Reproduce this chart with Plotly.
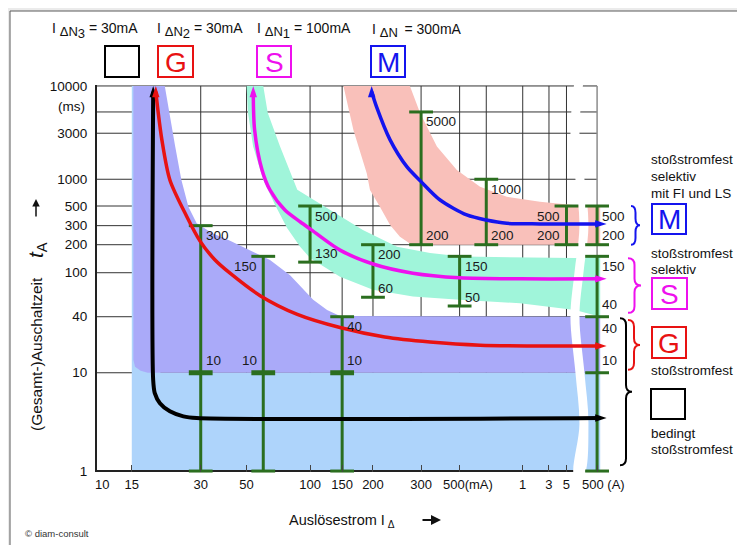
import numpy as np
import plotly.graph_objects as go

FONT = "Arial, 'Liberation Sans', sans-serif"

# ---------------- axis definitions (piecewise log scales, as drawn in the original) ----------------
X_TICK_MA = [10, 15, 30, 50, 100, 150, 200, 300, 500, 1000, 3000, 5000, 500000]
X_TICK_POS = [1.0, 1.144, 1.475, 1.695, 2.0, 2.154, 2.302, 2.533, 2.718, 3.021, 3.147, 3.231, 3.378]
X_TICK_TEXT = ["10", "15", "30", "50", "100", "150", "200", "300", "500(mA)", "1", "3", "5", "500 (A)"]
Y_TICK_MS = [1, 10, 40, 100, 200, 300, 500, 1000, 3000, 5000, 10000]
Y_TICK_POS = [0.0, 1.021, 1.603, 2.060, 2.351, 2.549, 2.753, 3.031, 3.509, 3.730, 4.0]
Y_TICK_TEXT = ["1", "10", "40", "100", "200", "300", "500", "1000", "3000", "", "10000"]
GRID_X_MA = [30, 50, 100, 150, 200, 300, 500, 670, 1000, 3000, 5000]
GRID_Y_MS = [10, 40, 100, 200, 300, 500, 1000, 3000, 5000, 10000]

X_EDGE_MA = 800000     # right end of shaded zones
X_TIP_MA = 2100000     # right arrow tips

# ---------------- shaded zones (mA, ms) ----------------
LIGHTBLUE_X = [15, 800000, 800000, 20, 20, 15]
LIGHTBLUE_Y = [1, 1, 10, 10, 10000, 10000]

PURPLE_X = [15.24, 15.24, 20.9, 21.9, 23.2, 24.7, 26.5, 28.8, 34, 41.6, 51.9, 64.6, 80.4, 92.9, 104, 124, 146,
            800000, 800000, 17.6, 16.4, 15.5]
PURPLE_Y = [13.8, 10000, 10000, 4800, 2200, 980, 490, 320, 257, 218, 175, 137, 95, 70, 57, 46, 40.5,
            40, 10, 10, 10.5, 11.6]

CYAN_X = [60, 63, 72, 87, 129, 182, 245, 338, 519, 18000, 800000,
          800000, 18000, 971, 500, 280, 200, 146, 100, 89.7, 77.8, 68.3, 60, 53.7, 50.8, 50]
CYAN_Y = [10000, 4900, 2200, 760, 450, 274, 190, 163, 149, 144, 148,
          40, 46, 53, 57, 61, 70, 92, 144, 190, 286, 513, 982, 2200, 4900, 10000]

PINK_X = [151.8, 273, 297.5, 370, 482, 626, 839, 2060, 13400, 800000,
          800000, 277, 251, 231, 212, 194.5, 188.7, 166.6]
PINK_Y = [10000, 10000, 4880, 2180, 1250, 825, 636, 560, 513, 513,
          200, 200, 237, 305, 491, 757, 1154, 3245]

# ---------------- characteristic curves (mA, ms) ----------------
BLACK_X = [18.6, 18.6, 18.9, 19.9, 22.0, 25.2, 28.8, X_TIP_MA]
BLACK_Y = [10000, 8.4, 6.2, 4.9, 4.05, 3.6, 3.46, 3.46]
RED_X = [19.1, 19.5, 20.3, 22.0, 26.0, 29.8, 35.2, 41.6, 58, 87, 146, 221, 338, 626, 4100, X_TIP_MA]
RED_Y = [10000, 5270, 2560, 982, 386, 216, 137, 99, 62, 42, 30.6, 24.2, 21.4, 19.8, 19.4, 19.4]
MAGENTA_X = [53.8, 54.6, 59.2, 64.6, 76, 90, 100, 146, 200, 280, 500, 970, X_TIP_MA]
MAGENTA_Y = [10000, 3250, 1250, 757, 450, 330, 280, 175, 124, 99, 90, 88, 88]
BLUE_X = [197.6, 206, 231, 266, 300, 386, 541, 670, 839, 2060, X_TIP_MA]
BLUE_Y = [10000, 5760, 2560, 1350, 940, 584, 396, 347, 319, 314, 314]

# ---------------- test bars (mA, ms) ----------------
BAR_MA = [30, 60, 150, 100, 200, 500, 300, 670, 5000, 500000, 500000]
BAR_LOW = [1, 1, 1, 130, 60, 50, 200, 200, 200, 200, 1]
BAR_HIGH = [300, 150, 40, 500, 200, 150, 5000, 1000, 500, 500, 150]
BAR_TOP_LABEL = ["300", "150", "40", "500", "200", "150", "5000", "1000", "500", "500", "150"]
BAR_LOW_LABEL = ["", "", "", "130", "60", "50", "200", "200", "200", "200", ""]
BAR_SIDE = ["r", "l", "r", "r", "r", "r", "r", "r", "l", "r", "r"]
DOUBLE_CAP_MA = [30, 60, 150]
DOUBLE_CAP_MS = [10, 10, 10]
MID_CAP_MA = [500000, 500000]
MID_CAP_MS = [10, 40]
# extra labels: (text, mA, ms, side, above?)
MID_LABELS = [("10", 30, 10, "r", True), ("10", 60, 10, "l", True), ("10", 150, 10, "r", True),
              ("10", 500000, 10, "r", True), ("40", 500000, 40, "r", True), ("40", 500000, 40, "r", False)]

# header texts: (subscript index, value)
HEADER = [("3", "30mA"), ("2", "30mA"), ("1", "100mA"), ("", "300mA")]

# break marker
BREAK_CENTER_MA = 38000
BREAK_Y_MS = [10000, 3000, 1000, 300, 100, 40, 10, 3, 1]
BREAK_SHIFT_PX = [-1, -5, 0, 4, -1, -5, 0, 4, -1]

GREEN = "#2b6e1f"
RED = "#e81212"
MAGENTA = "#ee10ee"
BLUE = "#1414ee"
BLACK = "#000000"


def _piecewise(v, anchors, pos):
    lv = np.log10(np.asarray(v, dtype=float))
    la = np.log10(np.asarray(anchors, dtype=float))
    p = np.asarray(pos, dtype=float)
    out = np.interp(lv, la, p)
    out = np.where(lv < la[0], p[0] + (lv - la[0]) * (p[1] - p[0]) / (la[1] - la[0]), out)
    out = np.where(lv > la[-1], p[-1] + (lv - la[-1]) * (p[-1] - p[-2]) / (la[-1] - la[-2]), out)
    return out


def xs(v):
    return _piecewise(v, X_TICK_MA, X_TICK_POS)


def ys(v):
    return _piecewise(v, Y_TICK_MS, Y_TICK_POS)


XR = [0.977, 3.44]
YR = [-0.01, 4.01]
PAGE_OFF = 8                       # browser body margin
FIG_W, FIG_H = 745 - PAGE_OFF, 545 - PAGE_OFF
L, T, W, H = 97, 85, 513, 387      # plot area in window pixels
PX_PER_X = W / (XR[1] - XR[0])


def px(xp):
    return (xp - L) / W


def py(yp):
    return (T + H - yp) / H


fig = go.Figure()

# gridlines (below everything)
x_left = XR[0]
for g in GRID_Y_MS:
    yy = float(ys(g))
    fig.add_shape(type="line", xref="x", yref="y", x0=x_left, x1=float(xs(500000)), y0=yy, y1=yy,
                  line=dict(color="#333333", width=1), layer="below")
for g in GRID_X_MA:
    xx = float(xs(g))
    fig.add_shape(type="line", xref="x", yref="y", x0=xx, x1=xx, y0=float(ys(1)), y1=float(ys(10000)),
                  line=dict(color="#333333", width=1), layer="below")
xx = float(xs(500000))
fig.add_shape(type="line", xref="x", yref="y", x0=xx, x1=xx, y0=float(ys(1)), y1=float(ys(10000)),
              line=dict(color="#8c8c8c", width=1.5), layer="below")


def fill(xv, yv, color):
    fig.add_trace(go.Scatter(x=xs(xv), y=ys(yv), fill="toself", fillcolor=color, mode="lines",
                             line=dict(width=0, color=color), hoverinfo="skip"))


fill(LIGHTBLUE_X, LIGHTBLUE_Y, "#aed4fb")
fill(PURPLE_X, PURPLE_Y, "#aaaaf9")
fill(CYAN_X, CYAN_Y, "#a0f5da")
fill(PINK_X, PINK_Y, "#f9c0ba")

# x axis line (as a trace so the break marker can interrupt it)
fig.add_trace(go.Scatter(x=[XR[0], float(xs(X_EDGE_MA))], y=[float(ys(1)), float(ys(1))], mode="lines",
                         line=dict(color="#222222", width=2), hoverinfo="skip"))

# break marker
bc = float(xs(BREAK_CENTER_MA))
half = 4.5 / PX_PER_X
left_x = [bc + s / PX_PER_X - half for s in BREAK_SHIFT_PX]
right_x = [bc + s / PX_PER_X + half for s in BREAK_SHIFT_PX]
by = list(ys(BREAK_Y_MS))
by[0] += 0.05
by[-1] -= 0.05
fig.add_trace(go.Scatter(x=left_x + right_x[::-1], y=by + by[::-1], fill="toself", fillcolor="white",
                         mode="lines", line=dict(width=0, color="white", shape="spline"), hoverinfo="skip"))

# bars
sx, sy = [], []
for b, lo, hi in zip(BAR_MA, BAR_LOW, BAR_HIGH):
    sx += [float(xs(b)), float(xs(b)), None]
    sy += [float(ys(lo)), float(ys(hi)), None]
fig.add_trace(go.Scatter(x=sx, y=sy, mode="lines", line=dict(color=GREEN, width=3), hoverinfo="skip"))
cx = list(xs(BAR_MA)) * 2 + list(xs(MID_CAP_MA))
cy = list(ys(BAR_LOW)) + list(ys(BAR_HIGH)) + list(ys(MID_CAP_MS))
fig.add_trace(go.Scatter(x=cx, y=cy, mode="markers", cliponaxis=False, hoverinfo="skip",
                         marker=dict(symbol="line-ew", size=17, line=dict(width=3, color=GREEN))))
fig.add_trace(go.Scatter(x=xs(DOUBLE_CAP_MA), y=ys(DOUBLE_CAP_MS), mode="markers", cliponaxis=False,
                         hoverinfo="skip",
                         marker=dict(symbol="line-ew", size=17, line=dict(width=5, color=GREEN))))


# curves
def curve(xv, yv, color, width):
    X = list(xs(xv))
    Y = list(ys(yv))
    Y[0] -= 0.06
    X[-1] -= 0.03
    fig.add_trace(go.Scatter(x=X, y=Y, mode="lines", hoverinfo="skip",
                             line=dict(color=color, width=width, shape="spline", smoothing=0.8)))
    fig.add_trace(go.Scatter(x=[float(xs(xv[0])), float(xs(xv[-1]))], y=[float(ys(yv[0])), float(ys(yv[-1]))],
                             mode="markers", cliponaxis=False, hoverinfo="skip",
                             marker=dict(symbol="arrow", size=12, angle=[0, 90], color=color,
                                         line=dict(width=0))))


curve(BLACK_X, BLACK_Y, BLACK, 4)
curve(RED_X, RED_Y, RED, 3.5)
curve(MAGENTA_X, MAGENTA_Y, MAGENTA, 3.5)
curve(BLUE_X, BLUE_Y, BLUE, 3.5)

# bar labels
LAB_FONT = dict(family=FONT, size=13.5, color="#1a1a1a")


def bar_label(text, xv, yv, side, dy):
    if not text:
        return
    fig.add_annotation(x=float(xs(xv)), y=float(ys(yv)), xref="x", yref="y", text=text, showarrow=False,
                       xanchor="left" if side == "r" else "right", yanchor="middle",
                       xshift=3 if side == "r" else -4, yshift=dy, font=LAB_FONT)


for b, lo, hi, tl, ll, sd in zip(BAR_MA, BAR_LOW, BAR_HIGH, BAR_TOP_LABEL, BAR_LOW_LABEL, BAR_SIDE):
    bar_label(tl, b, hi, sd, -10)
    bar_label(ll, b, lo, sd, 9)
for t, b, v, sd, above in MID_LABELS:
    bar_label(t, b, v, sd, 12 if above else -12)


# braces
def brace_path(x0, x1, yt, yb, r=0.07):
    xm = (x0 + x1) / 2
    ym = (yt + yb) / 2
    return (f"M{x0},{yt} Q{xm},{yt} {xm},{yt - r} L{xm},{ym + r} Q{xm},{ym} {x1},{ym} "
            f"Q{xm},{ym} {xm},{ym - r} L{xm},{yb + r} Q{xm},{yb} {x0},{yb}")


BRACES = [(631, 640, 500, 200, 0.0, 0.0, BLUE),
          (628, 641, 150, 40, 0.02, 0.04, MAGENTA),
          (628, 640, 40, 10, 0.035, 0.03, RED),
          (620, 632, 40, 1, 0.015, 0.06, BLACK)]
for x0, x1, ht, lb, it, ib, col in BRACES:
    fig.add_shape(type="path", xref="paper", yref="y",
                  path=brace_path(px(x0), px(x1), float(ys(ht)) - it, float(ys(lb)) + ib),
                  line=dict(color=col, width=2))

# card background / frame
fig.add_shape(type="rect", xref="paper", yref="paper", x0=px(10), x1=px(770), y0=py(570), y1=py(11),
              fillcolor="white", line=dict(color="#5a5a5a", width=1), layer="below")


def text(t, x, y, size=14, color="#111111", xanchor="left", **kw):
    fig.add_annotation(x=px(x), y=py(y), xref="paper", yref="paper", text=t, showarrow=False,
                       xanchor=xanchor, yanchor="middle", font=dict(family=FONT, size=size, color=color), **kw)


def box(x0, y0, x1, y1, color, letter=""):
    fig.add_shape(type="rect", xref="paper", yref="paper", x0=px(x0), x1=px(x1), y0=py(y1), y1=py(y0),
                  line=dict(color=color, width=2))
    if letter:
        text(letter, (x0 + x1) / 2, (y0 + y1) / 2 + 1, size=28, color=color, xanchor="center")


# header
HEADER_X = [50, 155, 255, 370]
for (sub, val), hx in zip(HEADER, HEADER_X):
    inner = "<span style='font-size:13px'>ΔN</span>"
    if sub:
        inner += "<sub><span style='font-size:13px'>" + sub + "</span></sub>"
    else:
        inner += " "
    text("I <sub>" + inner + "</sub> = " + val, hx, 31, size=14)
box(105, 46, 139, 77, BLACK)
box(158, 46, 193, 77, RED, "G")
box(257, 46, 291, 77, MAGENTA, "S")
box(371, 46, 405, 77, BLUE, "M")

# right legend
LX = 649
LS = 13.5
text("stoßstromfest", LX, 159, size=LS)
text("selektiv", LX, 176, size=LS)
text("mit FI und LS", LX, 193, size=LS)
box(652, 204, 686, 234, BLUE, "M")
text("stoßstromfest", LX, 253, size=LS)
text("selektiv", LX, 269, size=LS)
box(652, 278, 687, 309, MAGENTA, "S")
box(652, 327, 686, 358, RED, "G")
text("stoßstromfest", LX, 370, size=LS)
box(651, 389, 685, 419, BLACK)
text("bedingt", LX, 433, size=LS)
text("stoßstromfest", LX, 449, size=LS)

# axis titles
text("Auslösestrom I<sub> Δ</sub>", 342, 521, size=14.5, xanchor="center")
fig.add_annotation(x=px(441), y=py(520), xref="paper", yref="paper", ax=-20, ay=0, text="",
                   showarrow=True, arrowhead=2, arrowsize=1, arrowwidth=2, arrowcolor="#111")
text("(Gesamt-)Auschaltzeit", 36, 354, size=15.5, xanchor="center", textangle=-90)
text("<i>t</i><sub>A</sub>", 37, 250, size=21, xanchor="center", textangle=-90)
fig.add_annotation(x=px(36), y=py(199), xref="paper", yref="paper", ax=0, ay=19, text="",
                   showarrow=True, arrowhead=2, arrowsize=1, arrowwidth=1.5, arrowcolor="#111")
text("(ms)", 71, 106, size=13.5, xanchor="center")
text("© diam-consult", 23, 533, size=9.5, color="#333333")

# special x tick labels
XL_FONT = dict(family=FONT, size=13, color="#111111")
fig.add_annotation(x=float(xs(10)), y=py(484), xref="x", yref="paper", text="10", showarrow=False,
                   xanchor="center", yanchor="middle", font=XL_FONT)
fig.add_annotation(x=float(xs(500)), y=py(484), xref="x", yref="paper", text=X_TICK_TEXT[8], showarrow=False,
                   xanchor="center", yanchor="middle", xshift=8, font=XL_FONT)
fig.add_annotation(x=float(xs(500000)), y=py(484), xref="x", yref="paper", text=X_TICK_TEXT[12],
                   showarrow=False, xanchor="center", yanchor="middle", xshift=6, font=XL_FONT)

tick_idx = [1, 2, 3, 4, 5, 6, 7, 8, 9, 10, 11, 12]
fig.update_xaxes(range=XR, tickmode="array", tickvals=[X_TICK_POS[i] for i in tick_idx],
                 ticktext=[("" if i in (8, 12) else X_TICK_TEXT[i]) for i in tick_idx],
                 ticks="inside", ticklen=7, tickwidth=1, tickcolor="#444444",
                 showgrid=False, zeroline=False, showline=False, fixedrange=True,
                 tickfont=XL_FONT, ticklabelstandoff=3)
fig.update_yaxes(range=YR, tickmode="array", tickvals=[p for p, t in zip(Y_TICK_POS, Y_TICK_TEXT) if t],
                 ticktext=[t for t in Y_TICK_TEXT if t], ticks="", showgrid=False, zeroline=False,
                 showline=True, linecolor="#222222", linewidth=2, fixedrange=True,
                 tickfont=dict(family=FONT, size=13.5, color="#111111"), ticklabelstandoff=5)

fig.update_layout(width=FIG_W, height=FIG_H,
                  margin=dict(l=L - PAGE_OFF, r=FIG_W - (L - PAGE_OFF) - W, t=T - PAGE_OFF,
                              b=FIG_H - (T - PAGE_OFF) - H, pad=0),
                  paper_bgcolor="#ebebeb", plot_bgcolor="white", showlegend=False, hovermode=False,
                  font=dict(family=FONT, size=13, color="#111111"))

fig.write_html("out.html")
